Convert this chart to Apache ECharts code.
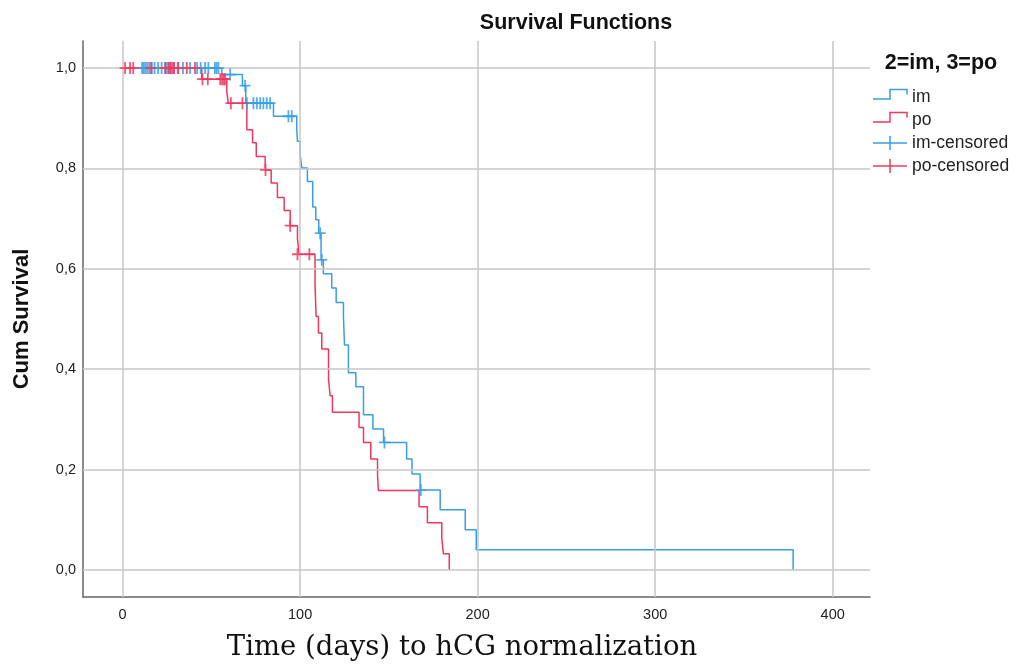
<!DOCTYPE html>
<html>
<head>
<meta charset="utf-8">
<script src="https://cdn.jsdelivr.net/npm/echarts@6/dist/echarts.min.js"></script>
<style>html,body{margin:0;padding:0;background:#fff}#c{width:1024px;height:664px}</style>
</head>
<body>
<div id="c"></div>
<script>
// Kaplan-Meier step data (time in days, cumulative survival after the step)
const imTimes = [0, 55.9, 67.5, 69.4, 85, 98.1, 98.5, 100, 101, 104.1, 107.1, 108.8, 110.5, 111.8, 113.1, 117.8, 120.3, 124.4, 125, 127.2, 131.4, 135.7, 141, 147, 160, 163, 167.6, 178.9, 193, 199.2, 377.7];
const imSurv  = [1.0, 0.987, 0.965, 0.930, 0.904, 0.878, 0.854, 0.827, 0.801, 0.774, 0.723, 0.698, 0.671, 0.618, 0.590, 0.562, 0.533, 0.505, 0.448, 0.393, 0.365, 0.309, 0.281, 0.254, 0.221, 0.191, 0.159, 0.120, 0.080, 0.040, 0.0];
const poTimes = [0, 44.6, 58.7, 59.5, 70, 73.2, 75.3, 80.3, 83.7, 87.2, 91, 94.4, 98.5, 99.4, 108.4, 109, 110.3, 112.2, 116, 116.9, 118.2, 133.2, 135.7, 139.8, 143.6, 144.1, 167, 171.7, 179.8, 180.7, 184];
const poSurv  = [1.0, 0.978, 0.954, 0.930, 0.877, 0.851, 0.824, 0.797, 0.771, 0.742, 0.716, 0.686, 0.660, 0.629, 0.568, 0.505, 0.472, 0.440, 0.379, 0.347, 0.314, 0.284, 0.254, 0.221, 0.189, 0.158, 0.126, 0.094, 0.063, 0.032, 0.0];
// censored observations
const imCensTimes = [11, 12, 13, 14, 15, 16.5, 18, 20, 22, 24, 25, 26, 27, 29, 31, 34, 38, 42, 44, 46.5, 48.3, 52, 53, 54, 60.6, 69, 70, 73.7, 75.6, 77.5, 79.3, 81.2, 83.1, 93.4, 95.3, 111.3, 112.2, 147.5, 168];
const imCensSurv  = [1, 1, 1, 1, 1, 1, 1, 1, 1, 1, 1, 1, 1, 1, 1, 1, 1, 1, 1, 1, 1, 1, 1, 1, 0.987, 0.965, 0.930, 0.930, 0.930, 0.930, 0.930, 0.930, 0.930, 0.904, 0.904, 0.671, 0.618, 0.254, 0.159];
const poCensTimes = [1.4, 4.2, 6, 16, 24, 26, 27, 28, 29, 31.4, 36.2, 40.8, 45, 48, 55, 56, 57, 57.7, 61, 67.5, 80.5, 94.4, 98.5, 105.2];
const poCensSurv  = [1, 1, 1, 1, 1, 1, 1, 1, 1, 1, 1, 1, 0.978, 0.978, 0.978, 0.978, 0.978, 0.978, 0.930, 0.930, 0.797, 0.686, 0.629, 0.629];
const xTicks = [0, 100, 200, 300, 400];
const yTicks = [0, 0.2, 0.4, 0.6, 0.8, 1.0];
const legendNames = ['im', 'po', 'im-censored', 'po-censored'];

const BLUE = '#3a9de6', RED = '#f0375d', GRID = '#c6c6c6';
const SANS = '"Liberation Sans", Arial, sans-serif';
const zip = (a, b) => a.map((v, i) => [v, b[i]]);
const plus = 'path://M4.6,0h1.8v5.1h4.6v1.8h-4.6v5.1h-1.8v-5.1h-4.6v-1.8h4.6z';

const chart = echarts.init(document.getElementById('c'), null, {renderer: 'canvas'});

// legend drawn as graphics
const lg = [];
const lx0 = 873, lx1 = 907, lxm = 890, ly = [97, 120, 143, 166];
const lcol = [BLUE, RED, BLUE, RED];
legendNames.forEach((n, i) => {
  const yc = ly[i];
  if (i < 2) {
    lg.push({type: 'polyline', shape: {points: [[lx0, yc + 2], [lxm, yc + 2], [lxm, yc - 7.5], [lx1, yc - 7.5], [lx1, yc - 2.5]]}, style: {stroke: lcol[i], lineWidth: 1.5, fill: null}});
  } else {
    lg.push({type: 'line', shape: {x1: lx0, y1: yc, x2: lx1, y2: yc}, style: {stroke: lcol[i], lineWidth: 1.5}});
    lg.push({type: 'line', shape: {x1: lxm, y1: yc - 7, x2: lxm, y2: yc + 7}, style: {stroke: lcol[i], lineWidth: 1.5}});
  }
  lg.push({type: 'text', x: 912, y: yc, style: {text: n, font: '17.5px ' + SANS, fill: '#222', textVerticalAlign: 'middle'}});
});

chart.setOption({
  animation: false,
  backgroundColor: '#fff',
  grid: {left: 83, right: 154, top: 41, bottom: 67, containLabel: false},
  xAxis: {
    type: 'value', min: -22.3, max: 421,
    axisLine: {show: true, onZero: false, lineStyle: {color: '#666', width: 1.5}},
    axisTick: {show: false},
    splitLine: {show: false},
    axisLabel: {customValues: xTicks, margin: 10, color: '#222', fontSize: 14.5, fontFamily: SANS}
  },
  yAxis: {
    type: 'value', min: -0.054, max: 1.054,
    name: 'Cum Survival', nameLocation: 'middle', nameGap: 50, nameRotate: 90,
    nameTextStyle: {fontWeight: 'bold', fontSize: 22, color: '#111', fontFamily: SANS},
    axisLine: {show: true, onZero: false, lineStyle: {color: '#666', width: 1.5}},
    axisTick: {show: false},
    splitLine: {show: false},
    axisLabel: {customValues: yTicks, margin: 7, color: '#222', fontSize: 14.5, fontFamily: SANS,
      formatter: v => v.toFixed(1).replace('.', ',')}
  },
  graphic: [
    {type: 'text', x: 576, y: 23, style: {text: 'Survival Functions', font: 'bold 21.5px ' + SANS, fill: '#111', textAlign: 'center', textVerticalAlign: 'middle'}},
    {type: 'text', x: 462, y: 648, style: {text: 'Time (days) to hCG normalization', font: '27.5px "DejaVu Serif", serif', fill: '#111', textAlign: 'center', textVerticalAlign: 'middle'}},
    {type: 'text', x: 941, y: 63, style: {text: '2=im, 3=po', font: 'bold 21.5px ' + SANS, fill: '#111', textAlign: 'center', textVerticalAlign: 'middle'}}
  ].concat(lg),
  series: [
    {type: 'line', data: [], z: 1, silent: true,
      markLine: {silent: true, symbol: 'none', animation: false, label: {show: false},
        lineStyle: {color: GRID, width: 1.5, type: 'solid'},
        data: xTicks.map(v => ({xAxis: v})).concat(yTicks.map(v => ({yAxis: v})))}},
    {name: 'im', type: 'line', step: 'end', data: zip(imTimes, imSurv), showSymbol: false, symbol: 'none', z: 3,
      lineStyle: {color: BLUE, width: 1.5}},
    {name: 'po', type: 'line', step: 'end', data: zip(poTimes, poSurv), showSymbol: false, symbol: 'none', z: 4,
      lineStyle: {color: RED, width: 1.5}},
    {name: 'im-censored', type: 'scatter', data: zip(imCensTimes, imCensSurv), symbol: plus, symbolSize: [11, 12], z: 5,
      itemStyle: {color: BLUE, opacity: 0.85}},
    {name: 'po-censored', type: 'scatter', data: zip(poCensTimes, poCensSurv), symbol: plus, symbolSize: [11, 12], z: 6,
      itemStyle: {color: RED, opacity: 0.85}}
  ]
});
</script>
</body>
</html>
